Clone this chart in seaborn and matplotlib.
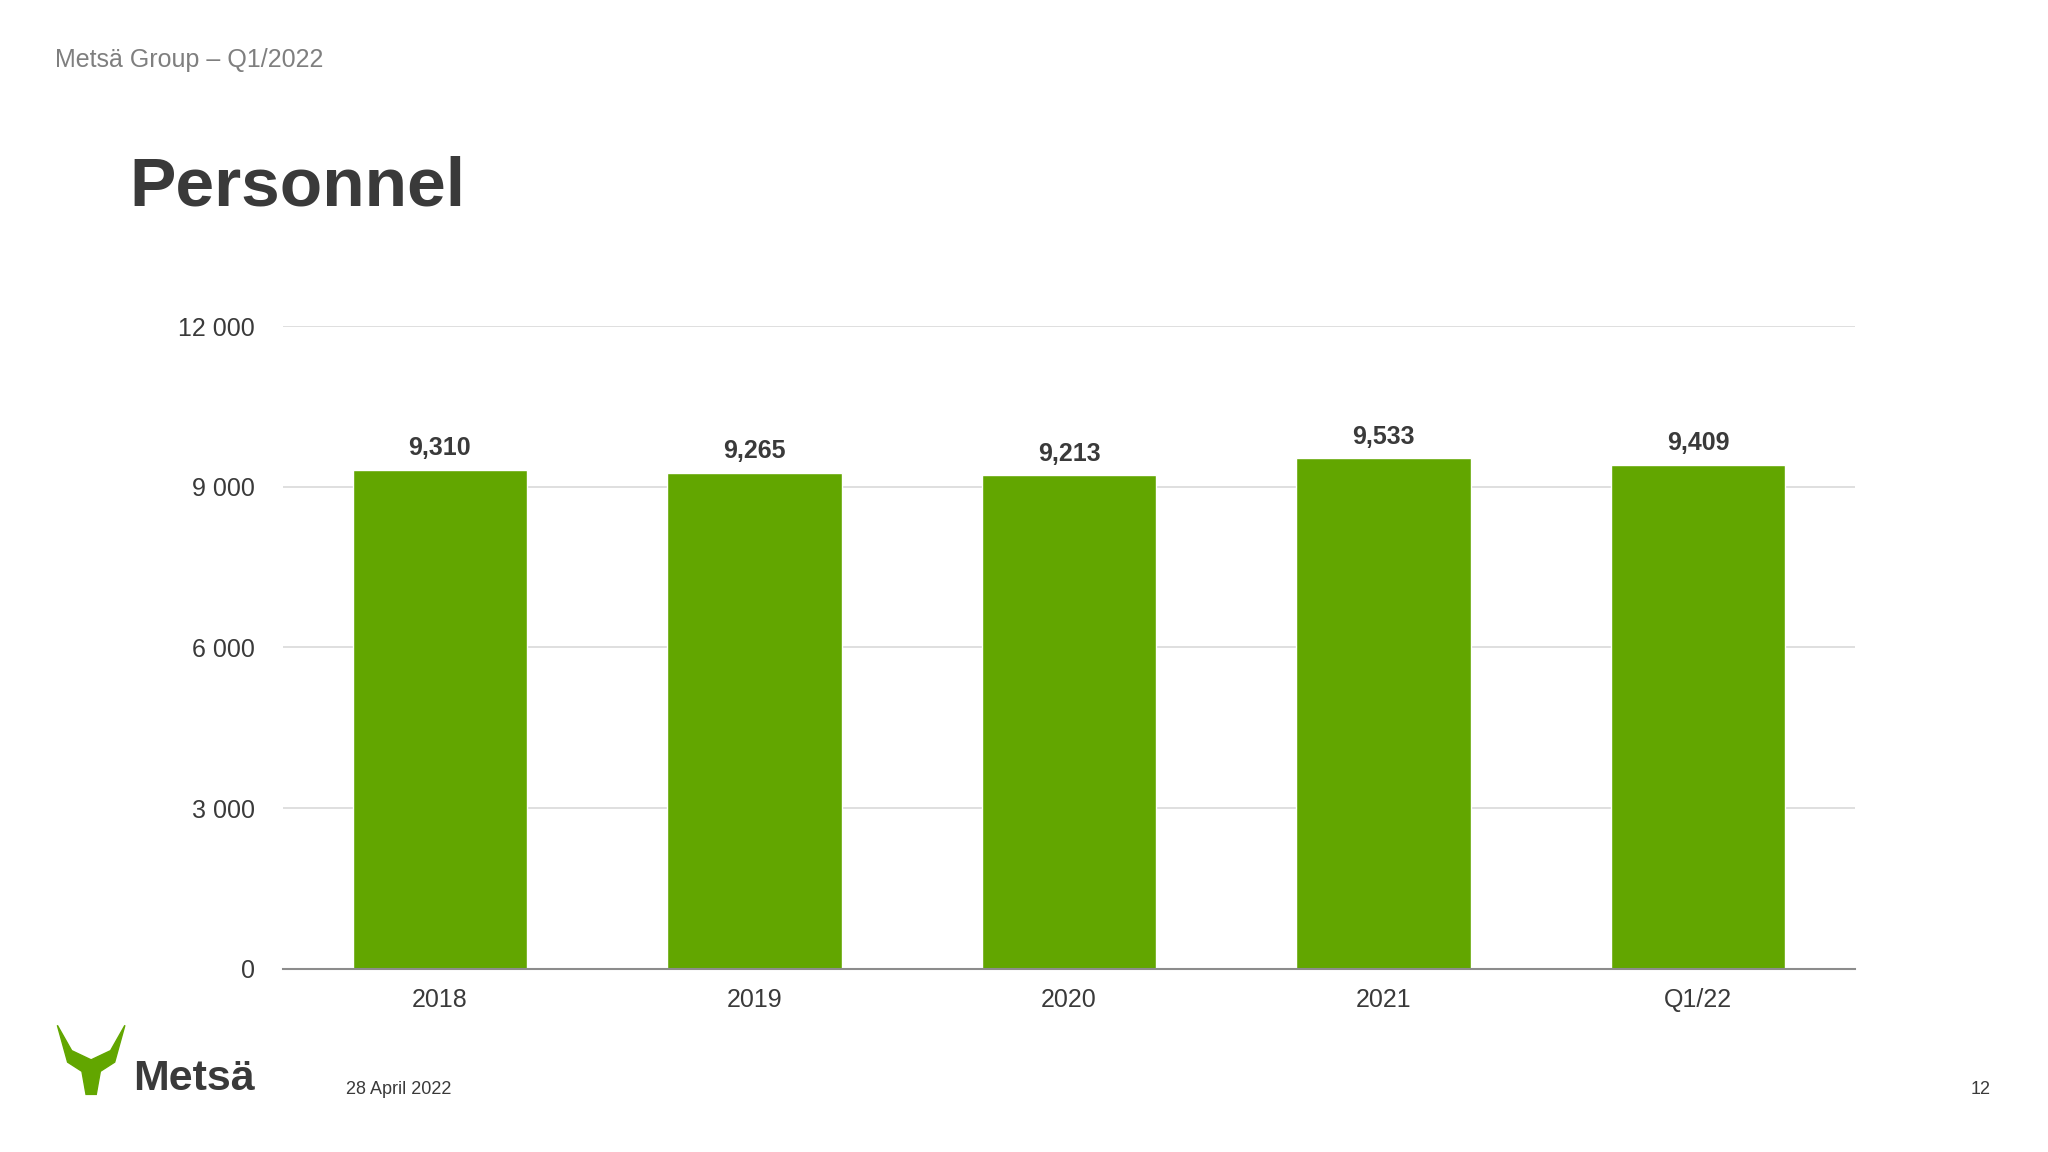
import matplotlib
matplotlib.use("Agg")
import matplotlib.pyplot as plt
import seaborn as sns
import pandas as pd
from matplotlib.patches import Polygon

# Data
periods = ["2018", "2019", "2020", "2021", "Q1/22"]
personnel = [9310, 9265, 9213, 9533, 9409]
y_ticks = [0, 3000, 6000, 9000, 12000]

GREEN = "#62A600"
DARK = "#3A3A3A"

sns.set_theme(style="white")
plt.rcParams["font.family"] = ["Liberation Sans", "DejaVu Sans"]

fig = plt.figure(figsize=(20.48, 11.52), dpi=100)
ax = fig.add_axes([0.138, 0.159, 0.768, 0.558])

df = pd.DataFrame({"period": periods, "personnel": personnel})
sns.barplot(data=df, x="period", y="personnel", color=GREEN, saturation=1,
            width=0.555, ax=ax)

ax.set_ylim(0, 12000)
ax.set_yticks(y_ticks)
ax.set_yticklabels([f"{v:,}".replace(",", " ") for v in y_ticks])
ax.yaxis.grid(True, color="#D9D9D9", linewidth=1.2)
ax.set_axisbelow(True)
for s in ["top", "right", "left"]:
    ax.spines[s].set_visible(False)
ax.spines["bottom"].set_color("#8C8C8C")
ax.spines["bottom"].set_linewidth(1.5)
ax.tick_params(axis="both", length=0, labelsize=18, labelcolor=DARK)
ax.tick_params(axis="x", pad=14)
ax.tick_params(axis="y", pad=20)
ax.set_xlabel("")
ax.set_ylabel("")

for i, v in enumerate(personnel):
    ax.text(i, v + 180, f"{v:,}", ha="center", va="bottom",
            fontsize=18, fontweight="bold", color=DARK)

# Slide decoration
fig.text(0.027, 0.948, "Metsä Group – Q1/2022", fontsize=18, color="#7F7F7F", va="center")
fig.text(0.063, 0.837, "Personnel", fontsize=50, fontweight="bold", color=DARK, va="center")
fig.text(0.169, 0.054, "28 April 2022", fontsize=13, color=DARK, va="center")
fig.text(0.972, 0.054, "12", fontsize=13, color=DARK, va="center", ha="right")

# Simple logo mark
logo = Polygon([(0.028, 0.110), (0.033, 0.078), (0.040, 0.070), (0.042, 0.050),
                (0.047, 0.050), (0.049, 0.070), (0.056, 0.078), (0.061, 0.110),
                (0.054, 0.088), (0.0445, 0.080), (0.035, 0.088)],
               closed=True, transform=fig.transFigure, color=GREEN)
fig.patches.append(logo)
fig.text(0.065, 0.063, "Metsä", fontsize=31, fontweight="bold", color=DARK, va="center")

fig.savefig("out.png", dpi=100, facecolor="white")
